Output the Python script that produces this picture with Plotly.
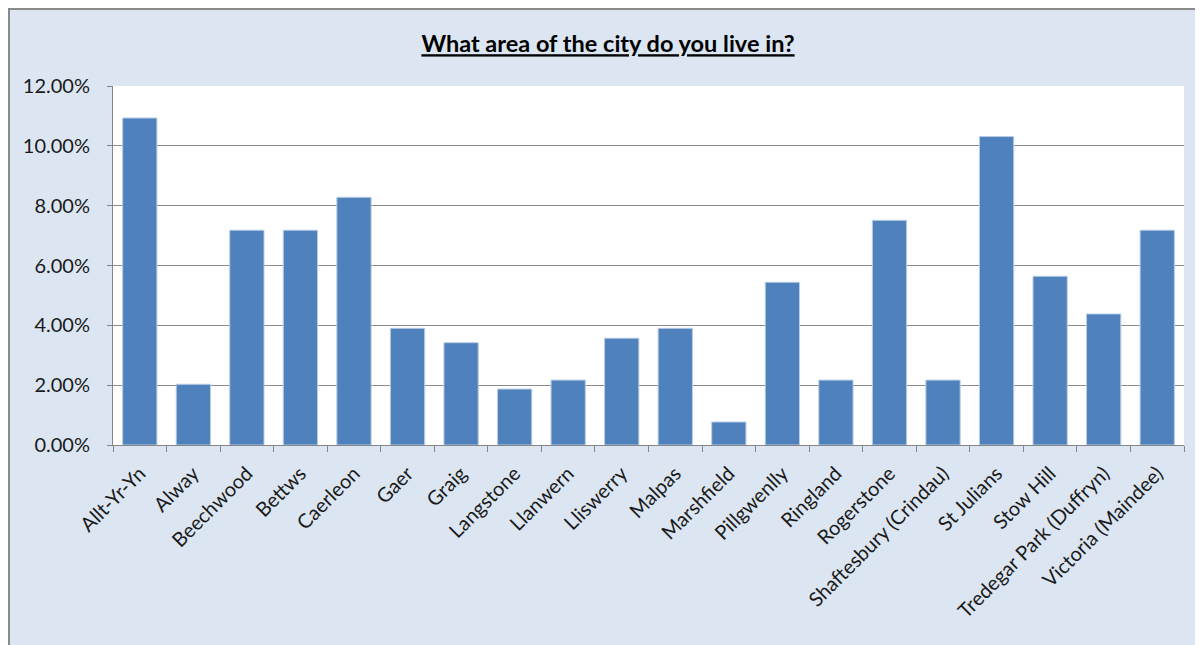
import plotly.graph_objects as go

areas = ["Allt-Yr-Yn", "Alway", "Beechwood", "Bettws", "Caerleon", "Gaer", "Graig",
         "Langstone", "Llanwern", "Lliswerry", "Malpas", "Marshfield", "Pillgwenlly",
         "Ringland", "Rogerstone", "Shaftesbury (Crindau)", "St Julians", "Stow Hill",
         "Tredegar Park (Duffryn)", "Victoria (Maindee)"]
share = [0.1093, 0.0203, 0.0718, 0.0718, 0.0828, 0.0390, 0.0342,
         0.0187, 0.0217, 0.0357, 0.0390, 0.0077, 0.0544,
         0.0217, 0.0751, 0.0217, 0.1031, 0.0564,
         0.0438, 0.0718]
y_ticks = [0, 0.02, 0.04, 0.06, 0.08, 0.10, 0.12]

W, H = 1195, 637
L, R, T, B = 105, 1176, 78, 437

def px(x):
    return (x - L) / (R - L)

def py(y):
    return (B - y) / (B - T)

FONT = "Lato"
fig = go.Figure(go.Bar(
    x=areas, y=share,
    marker=dict(color="#4F81BD", line=dict(color="#B9CDE5", width=1)),
))

fig.update_layout(
    width=W, height=H,
    margin=dict(l=L, r=W - R, t=T, b=H - B),
    paper_bgcolor="#DCE6F2",
    plot_bgcolor="white",
    bargap=0.36,
    showlegend=False,
    font=dict(family=FONT, color="#1a1a1a", size=20),
    title=dict(text="<b><u>What area of the city do you live in?</u></b>",
               x=600 / W, xref="container", xanchor="center",
               y=1 - 36 / H, yref="container", yanchor="middle",
               font=dict(family=FONT, size=23.5, color="black")),
    xaxis=dict(
        tickangle=-45, ticks="outside", tickson="boundaries", ticklen=6,
        tickcolor="#868686", showline=True, linecolor="#868686", linewidth=1,
        showgrid=False, tickfont=dict(size=20, family=FONT),
        ticklabelstandoff=8,
    ),
    yaxis=dict(
        range=[0, 0.12], tickvals=y_ticks, tickformat=".2%",
        ticks="outside", ticklen=5, tickcolor="#868686",
        showline=True, linecolor="#868686", linewidth=1,
        showgrid=True, gridcolor="#8C8C8C", gridwidth=1,
        zeroline=False, tickfont=dict(size=20, family=FONT),
        ticklabelstandoff=13,
    ),
    shapes=[
        dict(type="path", xref="paper", yref="paper",
             path=f"M {px(1)} {py(H + 5)} L {px(1)} {py(1)} L {px(W + 5)} {py(1)}",
             line=dict(color="#8A8A8A", width=2), layer="above"),
    ],
)

fig.write_html("out.html")
